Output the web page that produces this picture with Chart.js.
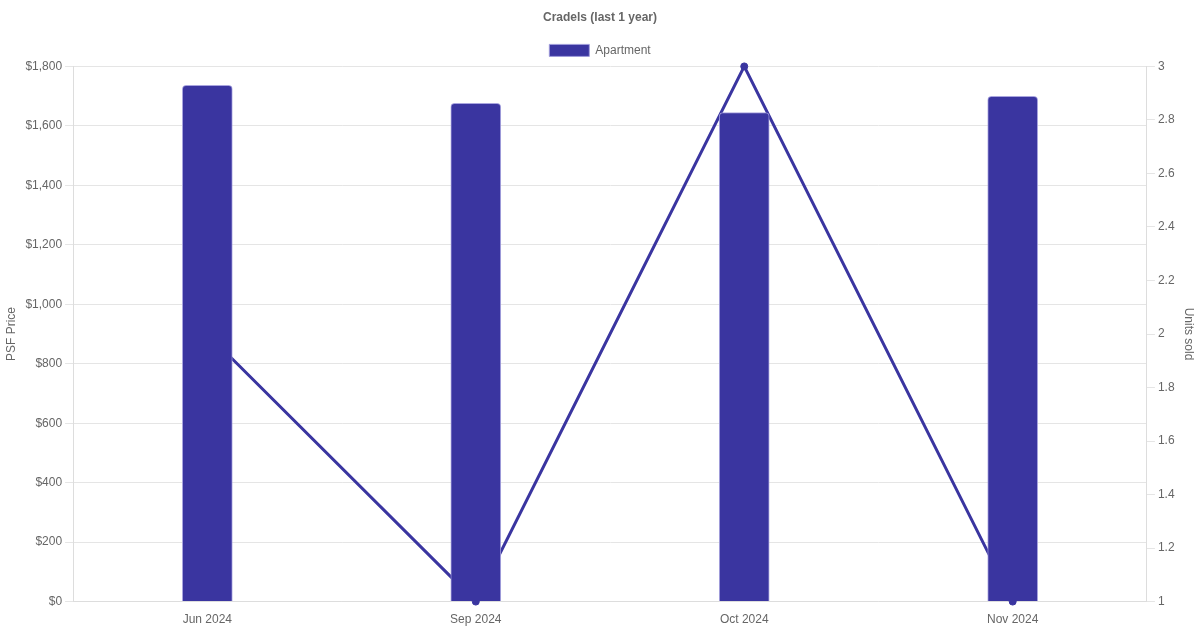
<!DOCTYPE html>
<html>
<head>
<meta charset="utf-8">
<script src="https://cdn.jsdelivr.net/npm/chart.js@4"></script>
<style>
  html, body { margin: 0; padding: 0; background: #fff; }
  #wrap { width: 1200px; height: 630px; }
</style>
</head>
<body>
<div id="wrap"><canvas id="chart"></canvas></div>
<script>
const months = ['Jun 2024', 'Sep 2024', 'Oct 2024', 'Nov 2024'];
const psfPrice = [1736, 1676, 1645, 1699];
const unitsSold = [2, 1, 3, 1];

const barColor = '#3a35a0';

Chart.defaults.font.family = '"Liberation Sans", Arial, sans-serif';
Chart.defaults.font.size = 12;
Chart.defaults.color = '#666';

new Chart(document.getElementById('chart'), {
  type: 'bar',
  data: {
    labels: months,
    datasets: [
      {
        type: 'bar',
        label: 'Apartment',
        data: psfPrice,
        yAxisID: 'y',
        backgroundColor: barColor,
        borderColor: 'rgba(160,155,220,0.9)',
        borderWidth: 1,
        borderRadius: { topLeft: 4, topRight: 4 },
        borderSkipped: 'bottom',
        barThickness: 50,
        order: 1
      },
      {
        type: 'line',
        label: 'Units',
        data: unitsSold,
        yAxisID: 'y1',
        borderColor: barColor,
        backgroundColor: barColor,
        borderWidth: 3,
        pointRadius: 3.5,
        pointBorderWidth: 1,
        tension: 0,
        fill: false,
        clip: false,
        order: 2
      }
    ]
  },
  options: {
    responsive: true,
    maintainAspectRatio: false,
    animation: false,
    plugins: {
      title: {
        display: true,
        text: 'Cradels (last 1 year)',
        font: { size: 12, weight: 'bold' },
        color: '#666',
        padding: { top: 10, bottom: 10 }
      },
      legend: {
        display: true,
        labels: {
          boxWidth: 40,
          boxHeight: 12,
          filter: (item) => item.datasetIndex === 0
        }
      },
      tooltip: { enabled: false }
    },
    scales: {
      x: {
        grid: { display: false },
        border: { color: '#ddd' }
      },
      y: {
        position: 'left',
        min: 0,
        max: 1800,
        ticks: {
          stepSize: 200,
          callback: (v) => '$' + v.toLocaleString('en-US')
        },
        title: { display: true, text: 'PSF Price' },
        grid: { color: '#e5e5e5' },
        border: { color: '#ddd' }
      },
      y1: {
        position: 'right',
        min: 1,
        max: 3,
        ticks: {
          stepSize: 0.2,
          callback: (v) => String(Math.round(v * 10) / 10)
        },
        title: { display: true, text: 'Units sold' },
        grid: { drawOnChartArea: false, color: '#e5e5e5' },
        border: { color: '#ddd' }
      }
    }
  }
});
</script>
</body>
</html>
